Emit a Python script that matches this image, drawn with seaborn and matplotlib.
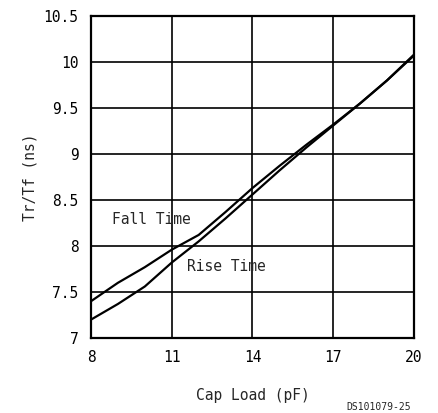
import matplotlib
matplotlib.use("Agg")
import matplotlib.pyplot as plt
import seaborn as sns
import pandas as pd

# Cap load (pF) and transition times (ns)
cap_load = [8, 9, 10, 11, 12, 13, 14, 15, 16, 17, 18, 19, 20]
fall_time = [7.40, 7.60, 7.77, 7.96, 8.12, 8.37, 8.63, 8.87, 9.10, 9.32, 9.55, 9.80, 10.07]
rise_time = [7.20, 7.37, 7.56, 7.82, 8.05, 8.30, 8.56, 8.82, 9.07, 9.31, 9.55, 9.80, 10.08]

x_ticks = [8, 11, 14, 17, 20]
y_ticks = [7, 7.5, 8, 8.5, 9, 9.5, 10, 10.5]
y_tick_labels = ["7", "7.5", "8", "8.5", "9", "9.5", "10", "10.5"]

df = pd.DataFrame({"cap": cap_load * 2,
                   "t": fall_time + rise_time,
                   "kind": ["Fall Time"] * len(cap_load) + ["Rise Time"] * len(cap_load)})

sns.set_style("white")
plt.rcParams["font.family"] = ["DejaVu Sans Mono", "DejaVu Sans"]

fig = plt.figure(figsize=(4.38, 4.13), dpi=100)
ax = fig.add_axes([0.2078, 0.1816, 0.7372, 0.7796])

sns.lineplot(data=df, x="cap", y="t", hue="kind", palette=["black", "black"],
             linewidth=1.6, legend=False, ax=ax)

ax.set_xlim(8, 20)
ax.set_ylim(7, 10.5)
ax.set_xticks(x_ticks)
ax.set_yticks(y_ticks)
ax.set_yticklabels(y_tick_labels)
ax.grid(True, color="black", linewidth=1.2)
for s in ax.spines.values():
    s.set_color("black")
    s.set_linewidth(1.6)
ax.tick_params(axis="both", length=0, labelsize=10.5, colors="black")
ax.tick_params(axis="x", pad=9)
ax.tick_params(axis="y", pad=9)

ax.set_xlabel("Cap Load (pF)", fontsize=10.5, labelpad=16)
ax.set_ylabel("Tr/Tf (ns)", fontsize=10.5, labelpad=4)

ax.text(8.78, 8.29, "Fall Time", fontsize=10.5, va="center", ha="left")
ax.text(11.57, 7.78, "Rise Time", fontsize=10.5, va="center", ha="left")

fig.text(0.79, 0.003, "DS101079-25", fontsize=7, va="bottom", ha="left")

fig.savefig("out.png", dpi=100)
